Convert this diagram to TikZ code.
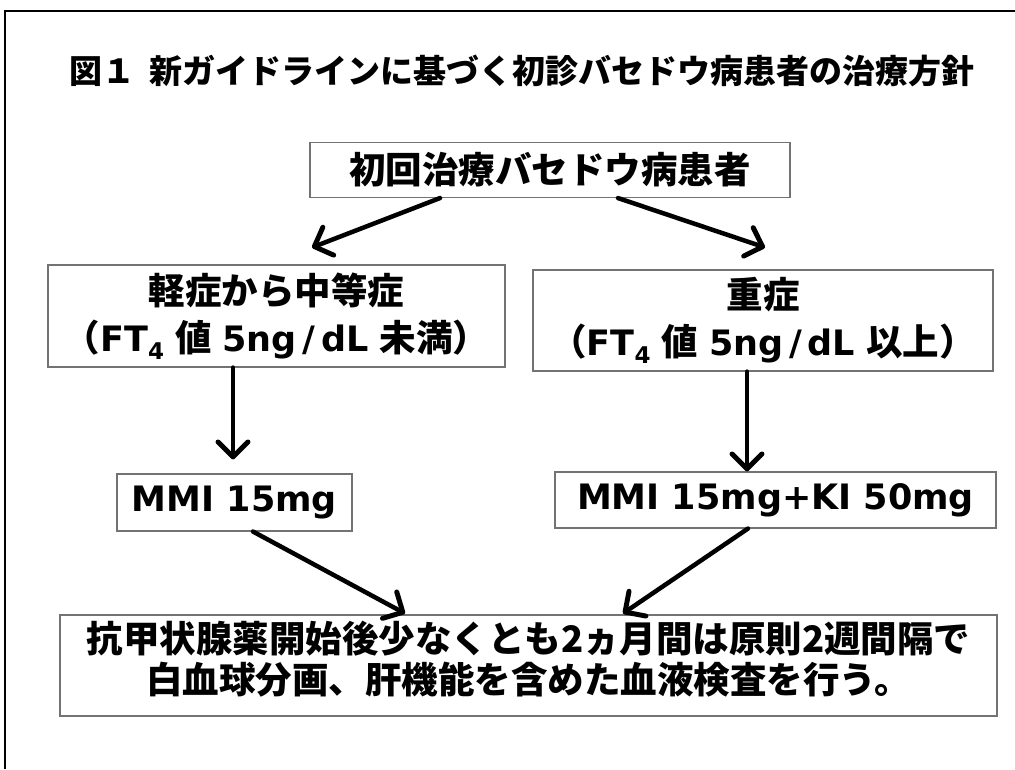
\documentclass[tikz,border=0pt]{standalone}
\usepackage{fontspec}
\newfontfamily\jpfam{Noto Sans CJK JP}
\newfontfamily\latfam{DejaVu Sans}
\usetikzlibrary{arrows.meta,calc}
\definecolor{boxgray}{RGB}{115,115,115}
\newcommand\jpt{\jpfam\bfseries\fontsize{33}{40}\selectfont}
\newcommand\jpbox{\jpfam\bfseries\fontsize{36.5}{46}\selectfont}
\newcommand\jpbot{\jpfam\bfseries\fontsize{36.5}{41}\selectfont}
\newcommand\latb{\latfam\bfseries\fontsize{35}{46}\selectfont}
\newcommand\subfour{\raisebox{-0.22em}{\fontsize{23}{23}\selectfont 4}}
\newcommand\gap{\hspace{11pt}}
\begin{document}
\begin{tikzpicture}[x=1pt,y=-1pt,
  box/.style={draw=boxgray, line width=1.1pt, inner sep=0pt, align=center, fill=white},
  arr/.style={line width=4.5pt, line cap=round, -{Straight Barb[length=15pt,width=30pt,line width=0pt 1.1,round]}}]
\useasboundingbox (0,0) rectangle (1015,769);
\draw[line width=1.3pt] (5,769) -- (5,11) -- (1015,11);
\node[anchor=west, inner sep=0pt, font=\jpt] (title) at (69,71) {図１\hspace{14pt}新ガイドラインに基づく初診バセドウ病患者の治療方針};
\node[box, font=\jpbox, minimum width=480pt, minimum height=55pt] (top) at (550,170) {初回治療バセドウ病患者};
\node[box, font=\jpbox, minimum width=457pt, minimum height=102pt] (mild) at (276.5,316) {軽症から中等症\\[1pt]（{\latb FT\subfour}\gap 値\gap{\latb 5ng\,/\,dL}\gap 未満）};
\node[box, font=\jpbox, minimum width=460pt, minimum height=101pt] (severe) at (763,320.5) {重症\\[1pt]（{\latb FT\subfour}\gap 値\gap{\latb 5ng\,/\,dL}\gap 以上）};
\node[box, font=\latb, minimum width=235pt, minimum height=57pt] (mmi1) at (234.5,502.5) {MMI 15mg};
\node[box, font=\latb, minimum width=441pt, minimum height=56pt] (mmi2) at (775.5,500) {MMI 15mg+KI 50mg};
\node[box, font=\jpbot, minimum width=937pt, minimum height=101pt, text depth=16pt] (bottom) at (528.5,665.5) {抗甲状腺薬開始後少なくとも2ヵ月間は原則2週間隔で\\白血球分画、肝機能を含めた血液検査を行う。};
\draw[arr] ([xshift=-110pt]top.south) -- ([xshift=35.5pt,yshift=17pt]mild.north);
\draw[arr] ([xshift=68pt]top.south) -- ([xshift=2pt,yshift=22pt]severe.north);
\draw[arr] ([xshift=-43.5pt]mild.south) -- ([xshift=-1.5pt,yshift=14pt]mmi1.north);
\draw[arr] ([xshift=-16pt]severe.south) -- ([xshift=-28.5pt]mmi2.north);
\draw[arr] ([xshift=18.5pt]mmi1.south) -- ([xshift=-123.5pt,yshift=1pt]bottom.north);
\draw[arr] ([xshift=-27.5pt]mmi2.south) -- ([xshift=94.5pt,yshift=1pt]bottom.north);
\end{tikzpicture}
\end{document}
